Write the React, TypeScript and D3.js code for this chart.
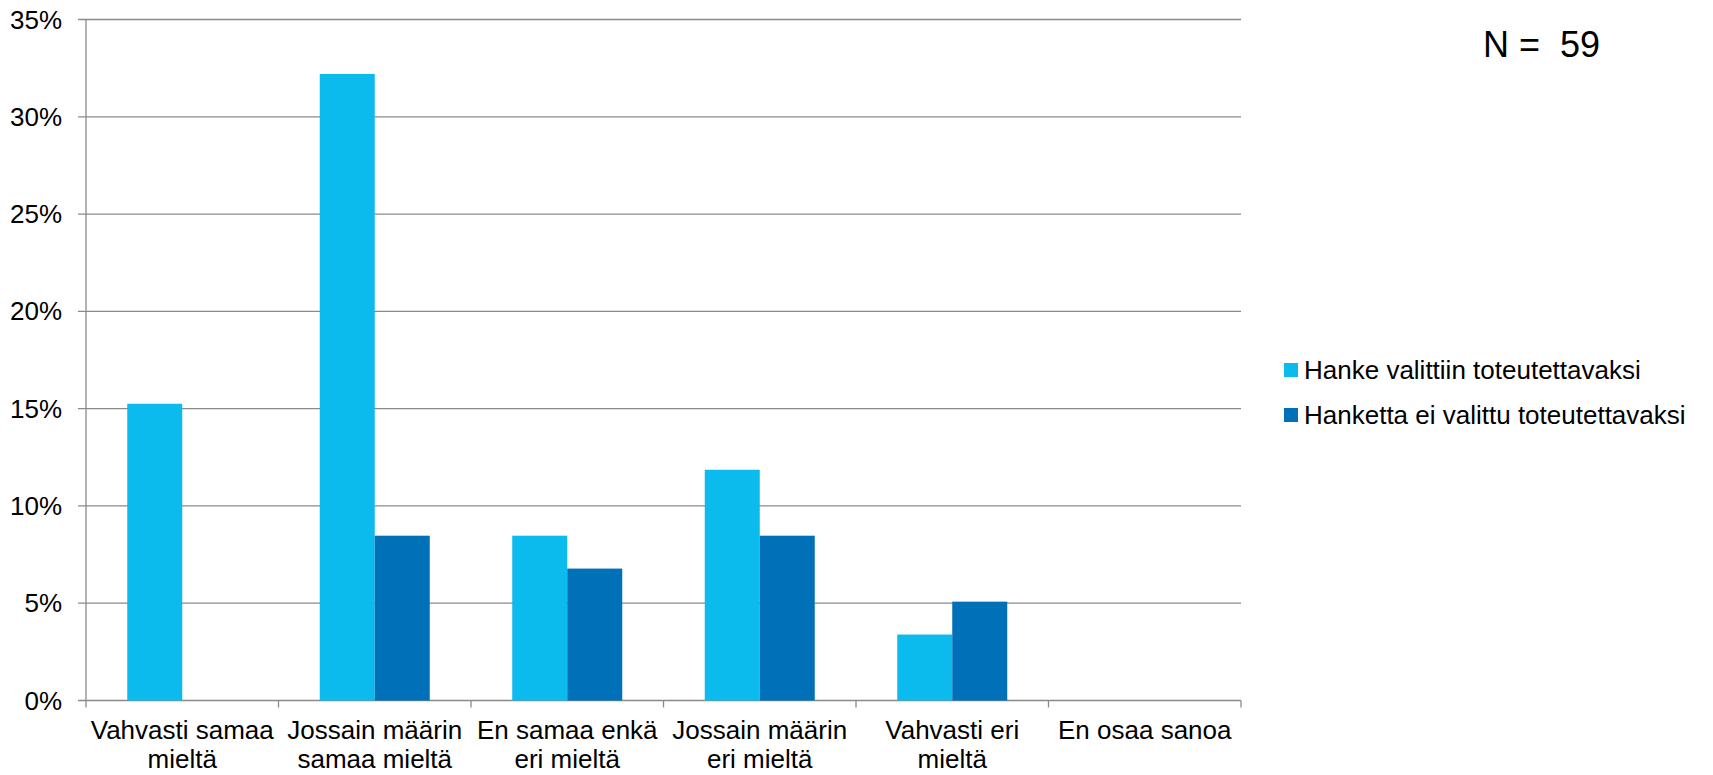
import React from "react";
import * as d3 from "d3";

const categories: string[][] = [
  ["Vahvasti samaa", "mieltä"],
  ["Jossain määrin", "samaa mieltä"],
  ["En samaa enkä", "eri mieltä"],
  ["Jossain määrin", "eri mieltä"],
  ["Vahvasti eri", "mieltä"],
  ["En osaa sanoa"],
];
const seriesNames = ["Hanke valittiin toteutettavaksi", "Hanketta ei valittu toteutettavaksi"];
const seriesA = [15.25, 32.2, 8.47, 11.86, 3.39, 0];
const seriesB = [0, 8.47, 6.78, 8.47, 5.08, 0];
const yTicks = [0, 5, 10, 15, 20, 25, 30, 35];
const colors = ["#0CBBEE", "#0070B8"];
const nLabel = "N =  59";

export default function App() {
  const W = 1713, H = 775;
  const left = 86, right = 1241, top = 19.5, bottom = 700.5;
  const keys = categories.map((_, i) => String(i));
  const x = d3.scaleBand<string>().domain(keys).range([left, right]).paddingInner(0).paddingOuter(0);
  const y = d3.scaleLinear().domain([0, 35]).range([bottom, top]);
  const bw = x.bandwidth();
  const barW = bw / 3.5;
  const font = "'Liberation Sans', Arial, sans-serif";
  const grid = "#8a8a8a";
  const series = [seriesA, seriesB];

  return (
    <svg width={W} height={H} style={{ position: "fixed", left: 0, top: 0, background: "#fff" }} fontFamily={font}>
      {yTicks.map((t) => (
        <g key={t}>
          <line x1={left - 8} x2={right} y1={y(t)} y2={y(t)} stroke={grid} strokeWidth={1.3} />
          <text x={62} y={y(t)} dy="0.35em" textAnchor="end" fontSize={26} fill="#000">{t}%</text>
        </g>
      ))}
      <line x1={left} x2={left} y1={top} y2={bottom} stroke={grid} strokeWidth={1.3} />
      {[...keys.map((k) => x(k) as number), right].map((px, i) => (
        <line key={i} x1={px} x2={px} y1={bottom} y2={bottom + 7} stroke={grid} strokeWidth={1.3} />
      ))}
      {series.map((vals, si) =>
        vals.map((v, ci) => {
          if (v <= 0) return null;
          const x0 = (x(keys[ci]) as number) + 0.75 * barW + si * barW;
          return <rect key={`${si}-${ci}`} x={x0} y={y(v)} width={barW} height={bottom - y(v)} fill={colors[si]} />;
        })
      )}
      {categories.map((lines, ci) => (
        <text key={ci} x={(x(keys[ci]) as number) + bw / 2} y={739} textAnchor="middle" fontSize={26} fill="#000">
          {lines.map((l, li) => (
            <tspan key={li} x={(x(keys[ci]) as number) + bw / 2} dy={li === 0 ? 0 : 29}>{l}</tspan>
          ))}
        </text>
      ))}
      <text x={1483} y={57} fontSize={36} fill="#000" style={{ whiteSpace: "pre" }}>{nLabel}</text>
      {seriesNames.map((n, i) => (
        <g key={n}>
          <rect x={1284} y={363 + i * 45} width={14} height={14} fill={colors[i]} />
          <text x={1304} y={379 + i * 45} fontSize={26} fill="#000">{n}</text>
        </g>
      ))}
    </svg>
  );
}
